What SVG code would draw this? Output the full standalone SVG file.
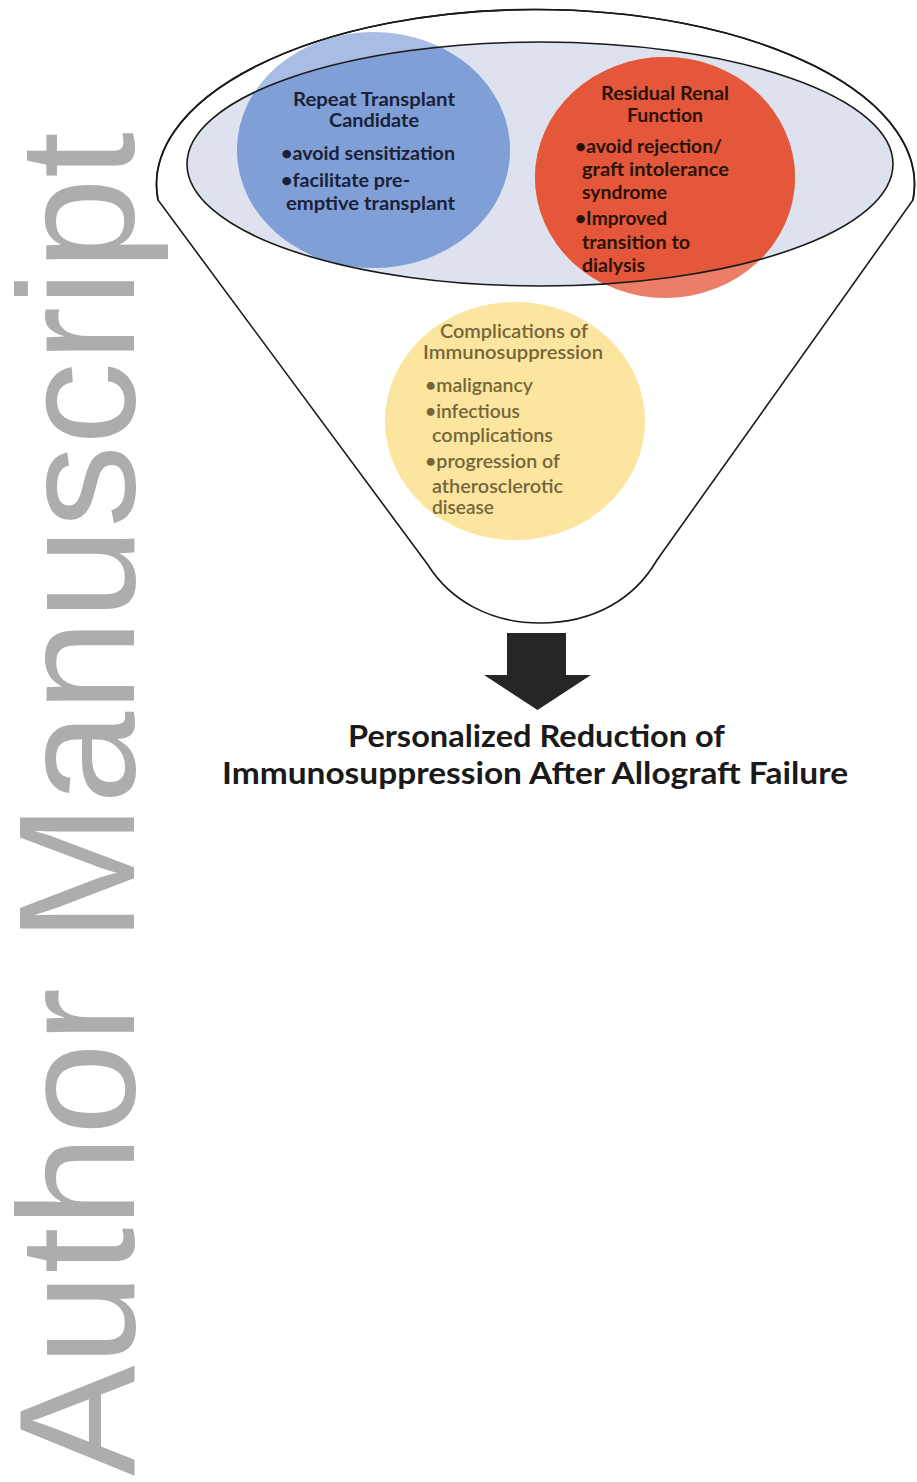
<svg xmlns="http://www.w3.org/2000/svg" width="917" height="1482" viewBox="0 0 917 1482">
<style>
.t{font-family:Lato,"Liberation Sans",sans-serif;}
.b{font-weight:700;font-size:19px;}
.blue{fill:#1b2238;}
.red{fill:#2b1208;}
.yel{fill:#75663a;font-size:19.5px;font-weight:600;}
.ttl{font-weight:700;font-size:31px;fill:#1a1a1a;}
.line{fill:none;stroke:#1a1a1a;stroke-width:1.6;}
.wm{font-family:"Liberation Sans",Arial,sans-serif;font-size:166px;fill:#adadad;}
</style>
<defs>
<clipPath id="innerClip"><ellipse cx="540" cy="164" rx="353" ry="122"/></clipPath>
</defs>
<rect width="917" height="1482" fill="#ffffff"/>
<g id="watermark">
<text class="wm" transform="translate(134,1476) rotate(-90)" textLength="1344" lengthAdjust="spacingAndGlyphs">Author Manuscript</text>
</g>
<g id="funnel">
<path d="M158,200 A379,175 0 1 1 913,200 L657,560 C635,598 595,623 540,623 C490,623 450,600 428,565 Z" fill="#ffffff" stroke="#1a1a1a" stroke-width="1.6"/>
<ellipse id="inner-fill" cx="540" cy="164" rx="353" ry="122" fill="#dee2ef"/>
</g>
<g id="node-repeat-transplant">
<ellipse cx="373.5" cy="150" rx="136.5" ry="118" fill="#a9bde4"/>
<ellipse cx="373.5" cy="150" rx="136.5" ry="118" fill="#7f9fd6" clip-path="url(#innerClip)"/>
</g>
<g id="node-residual-renal">
<ellipse cx="665" cy="177.5" rx="130" ry="120.5" fill="#ec7d66"/>
<ellipse cx="665" cy="177.5" rx="130" ry="120.5" fill="#e4573a" clip-path="url(#innerClip)"/>
</g>
<g id="node-complications">
<ellipse cx="515" cy="421" rx="130" ry="119" fill="#fce59f"/>
</g>
<g id="rim">
<ellipse cx="540" cy="164" rx="353" ry="122" class="line"/>
<path d="M158,200 A379,175 0 1 1 913,200" class="line"/>
</g>
<g id="labels-repeat">
<text class="t b blue" x="293" y="106" textLength="162" lengthAdjust="spacingAndGlyphs">Repeat Transplant</text>
<text class="t b blue" x="329" y="127" textLength="90" lengthAdjust="spacingAndGlyphs">Candidate</text>
<text class="t b blue" x="281" y="160" textLength="174" lengthAdjust="spacingAndGlyphs">•avoid sensitization</text>
<text class="t b blue" x="281" y="187" textLength="129" lengthAdjust="spacingAndGlyphs">•facilitate pre-</text>
<text class="t b blue" x="286" y="210" textLength="169" lengthAdjust="spacingAndGlyphs">emptive transplant</text>
</g>
<g id="labels-residual">
<text class="t b red" x="601" y="100" textLength="128" lengthAdjust="spacingAndGlyphs">Residual Renal</text>
<text class="t b red" x="627" y="122" textLength="76" lengthAdjust="spacingAndGlyphs">Function</text>
<text class="t b red" x="575" y="153" textLength="147" lengthAdjust="spacingAndGlyphs">•avoid rejection/</text>
<text class="t b red" x="582" y="176" textLength="147" lengthAdjust="spacingAndGlyphs">graft intolerance</text>
<text class="t b red" x="582" y="199" textLength="85" lengthAdjust="spacingAndGlyphs">syndrome</text>
<text class="t b red" x="575" y="225" textLength="92" lengthAdjust="spacingAndGlyphs">•Improved</text>
<text class="t b red" x="582" y="249" textLength="108" lengthAdjust="spacingAndGlyphs">transition to</text>
<text class="t b red" x="582" y="272" textLength="63" lengthAdjust="spacingAndGlyphs">dialysis</text>
</g>
<g id="labels-complications">
<text class="t yel" x="440" y="338" textLength="148" lengthAdjust="spacingAndGlyphs">Complications of</text>
<text class="t yel" x="423" y="359" textLength="180" lengthAdjust="spacingAndGlyphs">Immunosuppression</text>
<text class="t yel" x="425" y="392" textLength="108" lengthAdjust="spacingAndGlyphs">•malignancy</text>
<text class="t yel" x="425" y="418" textLength="95" lengthAdjust="spacingAndGlyphs">•infectious</text>
<text class="t yel" x="432" y="442" textLength="121" lengthAdjust="spacingAndGlyphs">complications</text>
<text class="t yel" x="425" y="468" textLength="135" lengthAdjust="spacingAndGlyphs">•progression of</text>
<text class="t yel" x="432" y="493" textLength="131" lengthAdjust="spacingAndGlyphs">atherosclerotic</text>
<text class="t yel" x="432" y="514" textLength="62" lengthAdjust="spacingAndGlyphs">disease</text>
</g>
<g id="connectors">
<polygon points="507,633 566,633 566,675 591,675 537.5,710 484,675 507,675" fill="#262626"/>
</g>
<g id="node-outcome">
<text class="t ttl" x="348" y="747" textLength="377" lengthAdjust="spacingAndGlyphs">Personalized Reduction of</text>
<text class="t ttl" x="222" y="784" textLength="626" lengthAdjust="spacingAndGlyphs">Immunosuppression After Allograft Failure</text>
</g>
</svg>
